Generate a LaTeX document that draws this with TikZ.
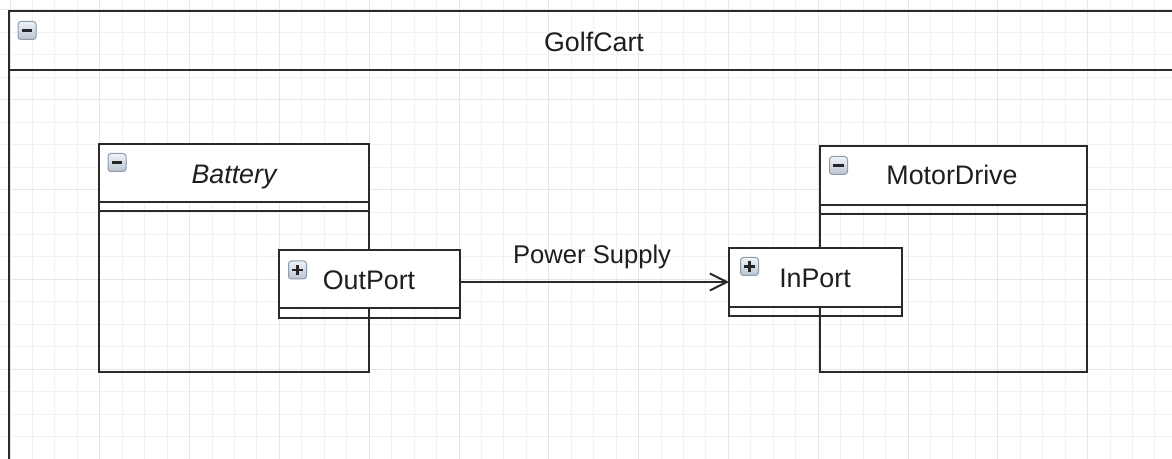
\documentclass[tikz,border=0pt]{standalone}
\usepackage{fontspec}
\setmainfont{Liberation Sans}
\usetikzlibrary{arrows.meta}
\definecolor{gridminor}{HTML}{F1F1F1}
\definecolor{gridmajor}{HTML}{E6E6E6}
\definecolor{edgecol}{HTML}{2A2A2A}
\definecolor{iconborder}{HTML}{8C9BAD}
\definecolor{icontop}{HTML}{F0F3F7}
\definecolor{iconbot}{HTML}{B8C4D1}
\definecolor{txtcol}{HTML}{1E1E1E}
\tikzset{
  gridthin/.style={draw=gridminor, line width=0.5pt},
  gridthick/.style={draw=gridmajor, line width=0.5pt},
  framebox/.style={draw=edgecol, line width=1.15pt, inner sep=0pt, outer sep=0pt, anchor=north west},
  classbox/.style={draw=edgecol, line width=1pt, inner sep=0pt, outer sep=0pt, anchor=north west},
  edgeline/.style={draw=edgecol, line width=1pt},
  labeltext/.style={inner sep=0pt, anchor=base, text=txtcol, font=\fontsize{13.4}{16}\selectfont},
  iconbox/.style={draw=iconborder, line width=0.5pt, rounded corners=1.5pt, top color=icontop, bottom color=iconbot, minimum size=9pt, inner sep=0pt},
  iconglyph/.style={draw=black!85, line width=1.1pt},
}
\begin{document}
\begin{tikzpicture}[x=0.5pt,y=-0.5pt]
\useasboundingbox (0,0) rectangle (1172,459);
\clip (0,0) rectangle (1172,459);
\fill[white] (0,0) rectangle (1172,459);
% grid
\foreach \k in {0,...,52} {\draw[gridthin] ({10+22.45*\k},0) -- ({10+22.45*\k},459);}
\foreach \k in {0,...,20} {\draw[gridthin] (0,{10+22.45*\k}) -- (1172,{10+22.45*\k});}
\foreach \k in {0,4,...,52} {\draw[gridthick] ({10+22.45*\k},0) -- ({10+22.45*\k},459);}
\foreach \k in {0,4,...,20} {\draw[gridthick] (0,{10+22.45*\k}) -- (1172,{10+22.45*\k});}

% GolfCart frame
\node[framebox, minimum width=600pt, minimum height=260pt] (golfcart) at (9,11) {};
\draw[edgeline, line width=1.15pt] (9,70) -- (1200,70);
\node[labeltext] (golfcartlabel) at (594,51.7) {GolfCart};
\node[iconbox] (golfcarticon) at (27,30.5) {};
\draw[iconglyph] ([xshift=-2.6pt]golfcarticon.center) -- ([xshift=2.6pt]golfcarticon.center);

% Battery
\fill[white] (99,144) rectangle (369,202);
\node[classbox, minimum width=135pt, minimum height=114pt] (battery) at (99,144) {};
\draw[edgeline] (99,202) -- (369,202);
\draw[edgeline] (99,211) -- (369,211);
\node[labeltext, font=\fontsize{13.4}{16}\selectfont\itshape] (batterylabel) at (234,183.3) {Battery};
\node[iconbox] (batteryicon) at (117,162.5) {};
\draw[iconglyph] ([xshift=-2.6pt]batteryicon.center) -- ([xshift=2.6pt]batteryicon.center);

% MotorDrive
\fill[white] (820,146) rectangle (1087,205);
\node[classbox, minimum width=133.5pt, minimum height=113pt] (motordrive) at (820,146) {};
\draw[edgeline] (820,205) -- (1087,205);
\draw[edgeline] (820,214) -- (1087,214);
\node[labeltext] (motordrivelabel) at (952,185) {MotorDrive};
\node[iconbox] (motordriveicon) at (838.5,165.5) {};
\draw[iconglyph] ([xshift=-2.6pt]motordriveicon.center) -- ([xshift=2.6pt]motordriveicon.center);

% OutPort
\fill[white] (279,250) rectangle (460,308);
\node[classbox, minimum width=90.5pt, minimum height=34pt] (outport) at (279,250) {};
\draw[edgeline] (279,308) -- (460,308);
\node[labeltext] (outportlabel) at (369,289.3) {OutPort};
\node[iconbox] (outporticon) at (297.5,270) {};
\draw[iconglyph] ([xshift=-2.6pt]outporticon.center) -- ([xshift=2.6pt]outporticon.center);
\draw[iconglyph] ([yshift=-2.6pt]outporticon.center) -- ([yshift=2.6pt]outporticon.center);

% InPort
\fill[white] (729,248) rectangle (902,307);
\node[classbox, minimum width=86.5pt, minimum height=34pt] (inport) at (729,248) {};
\draw[edgeline] (729,307) -- (902,307);
\node[labeltext] (inportlabel) at (815,287.3) {InPort};
\node[iconbox] (inporticon) at (749.5,266.5) {};
\draw[iconglyph] ([xshift=-2.6pt]inporticon.center) -- ([xshift=2.6pt]inporticon.center);
\draw[iconglyph] ([yshift=-2.6pt]inporticon.center) -- ([yshift=2.6pt]inporticon.center);

% connector
\draw[edgeline, -{Straight Barb[length=8.5pt,width=8.5pt]}] (outport.east |- inport.west) -- (inport.west)
  node[labeltext, midway, xshift=-1.2pt, yshift=9.3pt, font=\fontsize{12.8}{15}\selectfont] (powerlabel) {Power Supply};
\end{tikzpicture}
\end{document}
